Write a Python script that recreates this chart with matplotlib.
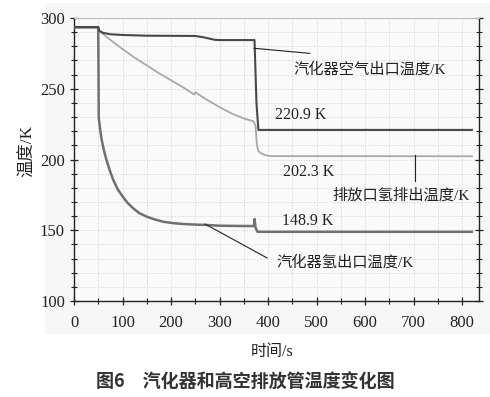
import matplotlib
matplotlib.use("Agg")
import matplotlib.pyplot as plt
from matplotlib.patches import Rectangle
from matplotlib.ticker import MultipleLocator

SERIF = ["Liberation Serif", "Noto Sans CJK SC"]
SANS = ["Noto Sans CJK SC", "DejaVu Sans"]

# 汽化器空气出口温度
air_t = [0, 50, 52, 60, 75, 100, 150, 250, 265, 290, 300, 372, 376, 380, 820]
air_T = [293.5, 293.5, 291, 289.5, 288.5, 288, 287.5, 287.3, 286.5, 284.6, 284.4, 284.4, 240, 220.9, 220.9]

# 排放口氢排出温度
exh_t = [0, 50, 52, 75, 100, 125, 150, 175, 200, 225, 245, 248, 250, 275, 300, 325, 350,
         370, 374, 377, 380, 385, 390, 398, 405, 820]
exh_T = [293.5, 293.5, 291, 284.5, 278, 272, 266.5, 261, 256, 251, 246.5, 246, 247.5, 242, 237,
         232.5, 229, 227, 224, 210, 206, 204.5, 203.6, 202.8, 202.4, 202.3]

# 汽化器氢出口温度
h2_t = [0, 50, 51, 54, 57, 62, 67, 74, 81, 90, 100, 110, 122, 135, 150, 165, 184, 205, 225,
        250, 274, 300, 350, 371, 372, 374, 378, 385, 820]
h2_T = [293.5, 293.5, 229.5, 221, 214, 206, 199.6, 192, 185.5, 179, 174, 169.5, 165.5, 162,
        159.6, 157.8, 156, 155, 154.4, 154, 153.7, 153.2, 153, 153, 158, 152, 149, 148.9, 148.9]

fig = plt.figure(figsize=(4.9, 3.97), dpi=100)
fig.patch.set_facecolor("white")
fig.patches.append(Rectangle((45 / 490, 1 - 334 / 397), 1 - 45 / 490, (334 - 3) / 397,
                             transform=fig.transFigure, facecolor="#f7f7f7",
                             edgecolor="none", zorder=-10))

ax = fig.add_axes([74 / 490, 1 - 301 / 397, (478.7 - 74) / 490, (301 - 18) / 397])
ax.set_zorder(2)
ax.set_facecolor("#fafafa")

ax.plot(exh_t, exh_T, color="#a9a9a9", lw=1.3, zorder=3)
ax.plot(h2_t, h2_T, color="#707070", lw=1.8, zorder=4)
ax.plot(air_t, air_T, color="#484848", lw=1.5, zorder=5)

ax.set_xlim(0, 834)
ax.set_ylim(100, 300)
ax.xaxis.set_major_locator(MultipleLocator(100))
ax.xaxis.set_minor_locator(MultipleLocator(50))
ax.yaxis.set_major_locator(MultipleLocator(50))
ax.yaxis.set_minor_locator(MultipleLocator(10))
ax.grid(True, which="both", color="#d2d2d2", ls=":", lw=0.7, zorder=1)

for s in ["left", "bottom", "right"]:
    ax.spines[s].set_color("#222222")
    ax.spines[s].set_linewidth(1.0)
ax.spines["top"].set_color("#bdbdbd")

ax.tick_params(axis="both", which="major", direction="inout", length=6, width=0.9,
               labelsize=12, colors="#222222")
ax.tick_params(axis="both", which="minor", direction="inout", length=4, width=0.8,
               colors="#222222")
ax.tick_params(axis="y", which="both", right=True, labelright=False)
ax.tick_params(axis="x", which="major", pad=7)
for lab in ax.get_xticklabels() + ax.get_yticklabels():
    lab.set_fontfamily(SERIF)

ax.set_xlabel("时间/s", family=SERIF, fontsize=11.5, color="#222222")
ax.set_ylabel("温度/K", family=SERIF, fontsize=12.5, color="#222222")
ax.xaxis.set_label_coords(0.49, -0.152)
ax.yaxis.set_label_coords(-0.094, 0.53)

# annotations
txt = dict(family=SERIF, color="#222222", va="center")
ax.plot([371, 486], [278.6, 275], color="#222222", lw=0.8, zorder=6)
ax.text(453, 263.3, "汽化器空气出口温度/K", fontsize=11, **txt)
ax.text(414, 231.4, "220.9 K", fontsize=11.5, **txt)
ax.text(431, 191.2, "202.3 K", fontsize=11.5, **txt)
ax.plot([703, 703], [203.2, 185], color="#222222", lw=0.8, zorder=6)
ax.text(816, 174.2, "排放口氢排出温度/K", fontsize=11, ha="right", **txt)
ax.text(429, 156.5, "148.9 K", fontsize=11.5, **txt)
ax.plot([270, 398], [154.4, 130.4], color="#222222", lw=0.8, zorder=6)
ax.text(418, 126.9, "汽化器氢出口温度/K", fontsize=11, **txt)

fig.text(0.5, 1 - 381 / 397, "图6　汽化器和高空排放管温度变化图", family=SANS,
         fontsize=13, fontweight="bold", color="#333333", ha="center", va="center")

fig.savefig("out.png", dpi=100, facecolor="white")
